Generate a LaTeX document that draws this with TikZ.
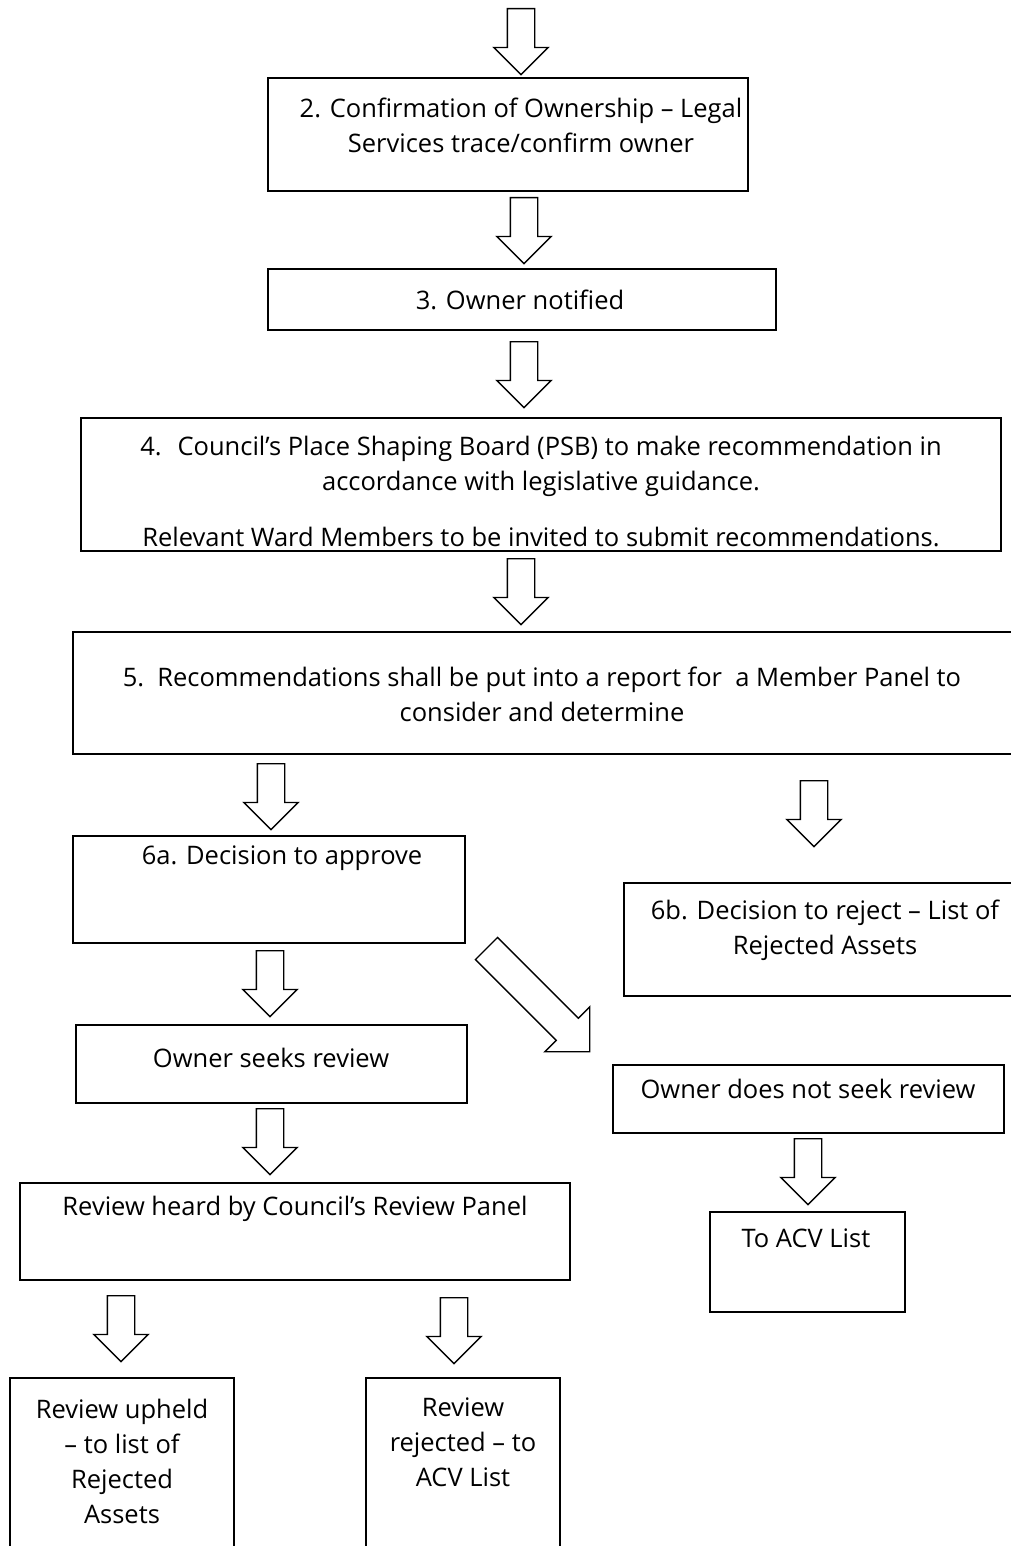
\documentclass[tikz,border=0pt]{standalone}
\usepackage{fontspec}
\setmainfont{Open Sans}
\usetikzlibrary{shapes.arrows,fit}
\tikzset{
  box/.style={draw, line width=1.4pt, inner sep=0pt},
  txt/.style={align=center, font=\fontsize{25.5}{35}\selectfont, inner sep=0pt},
  blockarrow/.style={single arrow, draw, line width=1.4pt, anchor=tail,
    minimum height=66pt, inner xsep=0pt, inner ysep=13pt,
    single arrow head extend=13.5pt, single arrow tip angle=90},
  down/.style={blockarrow, rotate=-90}
}
\begin{document}
\begin{tikzpicture}[x=1pt,y=-1pt]
  \useasboundingbox (0,0) rectangle (1011,1546);
  \clip (0,0) rectangle (1011,1546);
  % boxes
  \node[box, fit={(268,78) (748,191)}] (b2) {};
  \node[box, fit={(268,269) (776,330)}] (b3) {};
  \node[box, fit={(81,418) (1001,551)}] (b4) {};
  \node[box, fit={(73,632) (1020,754)}] (b5) {};
  \node[box, fit={(73,836) (465,943)}] (b6a) {};
  \node[box, fit={(624,883) (1020,996)}] (b6b) {};
  \node[box, fit={(76,1025) (467,1103)}] (bseek) {};
  \node[box, fit={(20,1183) (570,1280)}] (bheard) {};
  \node[box, fit={(613,1065) (1004,1133)}] (bnoseek) {};
  \node[box, fit={(710,1212) (905,1312)}] (bacv) {};
  \node[box, fit={(10,1378) (234,1560)}] (bup) {};
  \node[box, fit={(366,1378) (560,1560)}] (brej) {};
  % texts
  \node[txt] (t2) at (521,125.5) {2. Confirmation of Ownership – Legal\\Services trace/confirm owner};
  \node[txt] (t3) at (520,300) {3. Owner notified};
  \node[txt] (t4) at (541,491) {4. \;Council’s Place Shaping Board (PSB) to make recommendation in\\accordance with legislative guidance.\\[21pt]Relevant Ward Members to be invited to submit recommendations.};
  \node[txt] (t5) at (542,694.5) {5. \,Recommendations shall be put into a report for \ a Member Panel to\\consider and determine};
  \node[txt] (t6a) at (282,858) {6a. Decision to approve};
  \node[txt] (t6b) at (825,930) {6b. Decision to reject – List of\\Rejected Assets};
  \node[txt] (tseek) at (271,1058) {Owner seeks review};
  \node[txt] (theard) at (295,1209) {Review heard by Council’s Review Panel};
  \node[txt] (tnoseek) at (808,1089) {Owner does not seek review};
  \node[txt] (tacv) at (806,1238) {To ACV List};
  \node[txt] (tup) at (122,1461) {Review upheld\\– to list of\\Rejected\\Assets};
  \node[txt] (trej) at (463,1442.5) {Review\\rejected – to\\ACV List};
  % block arrows
  \node[down] (a1) at (521,8) {};
  \node[down] (a2) at (524,197) {};
  \node[down] (a3) at (524,341) {};
  \node[down] (a4) at (521,558) {};
  \node[down] (a5a) at (271,763) {};
  \node[down] (a5b) at (814,780) {};
  \node[down] (a6a) at (270,950) {};
  \node[blockarrow, rotate=-45, minimum height=146pt, inner ysep=15pt,
    single arrow head extend=16pt] (adiag) at (486,948) {};
  \node[down] (a7) at (270,1108) {};
  \node[down] (a8) at (808,1138) {};
  \node[down] (a9) at (121,1295) {};
  \node[down] (a10) at (454,1297) {};
\end{tikzpicture}
\end{document}
